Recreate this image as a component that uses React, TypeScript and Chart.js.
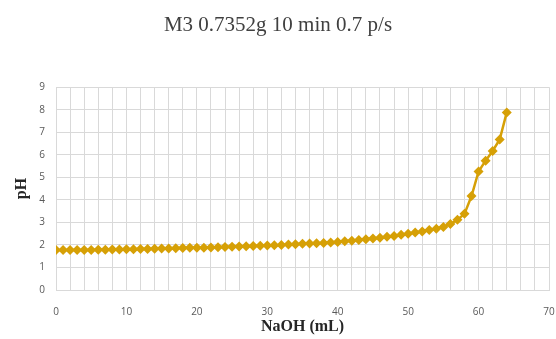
import React, { useEffect, useRef } from "react";
import { Chart, registerables } from "chart.js";

Chart.register(...registerables);

const titleText = "M3 0.7352g 10 min 0.7 p/s";
const xAxisTitle = "NaOH (mL)";
const yAxisTitle = "pH";

const naohVolumes = [
  0, 1, 2, 3, 4, 5, 6, 7, 8, 9, 10, 11, 12, 13, 14, 15, 16, 17, 18, 19, 20,
  21, 22, 23, 24, 25, 26, 27, 28, 29, 30, 31, 32, 33, 34, 35, 36, 37, 38, 39, 40,
  41, 42, 43, 44, 45, 46, 47, 48, 49, 50, 51, 52, 53, 54, 55, 56, 57, 58, 59, 60,
  61, 62, 63, 64,
];

const phValues = [
  1.77, 1.77, 1.77, 1.78, 1.78, 1.78, 1.79, 1.79, 1.8, 1.8, 1.81, 1.81, 1.82, 1.82, 1.83, 1.84, 1.84, 1.85, 1.86, 1.87, 1.88,
  1.88, 1.89, 1.9, 1.91, 1.92, 1.93, 1.94, 1.95, 1.96, 1.97, 1.99, 2.0, 2.02, 2.03, 2.05, 2.06, 2.08, 2.09, 2.11, 2.13,
  2.16, 2.19, 2.22, 2.25, 2.29, 2.32, 2.36, 2.4, 2.45, 2.5, 2.55, 2.6, 2.66, 2.72, 2.8, 2.93, 3.12, 3.38, 4.17, 5.26,
  5.74, 6.17, 6.68, 7.88,
];

const xMin = 0;
const xMax = 70;
const xGridStep = 2;
const xLabelStep = 10;
const yMin = 0;
const yMax = 9;
const yStep = 1;

export default function App() {
  const canvasRef = useRef<HTMLCanvasElement | null>(null);

  useEffect(() => {
    if (!canvasRef.current) return;
    const gold = "#D6A006";
    const gridColor = "#D9D9D9";
    const tickColor = "#595959";
    const chart = new Chart(canvasRef.current, {
      type: "line",
      data: {
        datasets: [
          {
            label: "pH",
            data: naohVolumes.map((x, i) => ({ x, y: phValues[i] })),
            borderColor: gold,
            backgroundColor: gold,
            borderWidth: 2.5,
            pointStyle: "rectRot",
            pointRadius: 5,
            pointBorderWidth: 0,
            pointBackgroundColor: gold,
            tension: 0,
          },
        ],
      },
      options: {
        responsive: false,
        animation: false,
        layout: { padding: { left: 0, right: 0, top: 0, bottom: 0 } },
        plugins: {
          legend: { display: false },
          tooltip: { enabled: false },
          title: {
            display: true,
            text: titleText,
            color: "#404040",
            font: { family: "'Liberation Serif', serif", size: 21, weight: "normal", lineHeight: 1.2 },
            padding: { top: 13, bottom: 49 },
          },
        },
        scales: {
          x: {
            type: "linear",
            min: xMin,
            max: xMax,
            grid: { color: gridColor, lineWidth: 1, drawTicks: false },
            border: { color: gridColor },
            ticks: {
              stepSize: xGridStep,
              autoSkip: false,
              maxRotation: 0,
              padding: 16,
              color: tickColor,
              font: { family: "'Open Sans', sans-serif", size: 10 },
              callback: (v: any) => (Number(v) % xLabelStep === 0 ? String(v) : ""),
            },
            title: {
              display: true,
              text: xAxisTitle,
              color: "#262626",
              font: { family: "'Liberation Serif', serif", size: 16, weight: "bold" },
              padding: { top: 0, bottom: 3 },
            },
            afterFit: (s: any) => {
              s.height = 49;
              s.paddingRight = 7;
            },
          },
          y: {
            min: yMin,
            max: yMax,
            grid: { color: gridColor, lineWidth: 1, drawTicks: false },
            border: { color: gridColor },
            ticks: {
              stepSize: yStep,
              padding: 11,
              color: tickColor,
              font: { family: "'Open Sans', sans-serif", size: 10 },
            },
            title: {
              display: true,
              text: yAxisTitle,
              color: "#262626",
              font: { family: "'Liberation Serif', serif", size: 16, weight: "bold" },
              padding: { top: 12, bottom: 0 },
            },
            afterFit: (s: any) => {
              s.width = 56;
            },
          },
        },
      },
    });
    return () => chart.destroy();
  }, []);

  return (
    <div style={{ position: "fixed", left: 0, top: 0, width: 556, height: 339, background: "#fff" }}>
      <canvas ref={canvasRef} width={556} height={339} style={{ width: 556, height: 339, display: "block" }} />
    </div>
  );
}
